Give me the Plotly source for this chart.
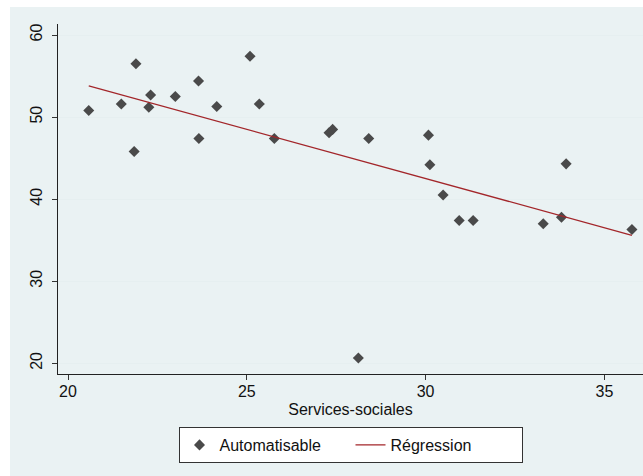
import plotly.graph_objects as go

# Data
services_sociales = [20.58, 21.49, 21.90, 21.85, 22.31, 22.26, 23.00, 23.65, 23.66, 24.16,
                     25.09, 25.35, 25.77, 27.30, 27.40, 28.41, 28.12, 30.08, 30.12, 30.49,
                     30.94, 31.33, 33.29, 33.80, 33.93, 35.77]
automatisable = [50.8, 51.6, 56.5, 45.8, 52.7, 51.2, 52.5, 54.4, 47.4, 51.3,
                 57.4, 51.6, 47.4, 48.1, 48.5, 47.4, 20.65, 47.8, 44.2, 40.5,
                 37.4, 37.4, 37.0, 37.8, 44.3, 36.3]
regression_x = [20.58, 35.77]
regression_y = [53.8, 35.6]

x_ticks = [20, 25, 30, 35]
y_ticks = [20, 30, 40, 50, 60]

W, H = 643, 476
ML, MR, MT, MB = 58, 0, 24, 102
pw, ph = W - ML - MR, H - MT - MB

def px_x(p):
    return (p - ML) / pw

def px_y(p):
    return (H - MB - p) / ph

font = "Liberation Sans, Arial, sans-serif"
fig = go.Figure()
fig.add_trace(go.Scatter(
    x=services_sociales, y=automatisable, mode="markers", name="Automatisable",
    marker=dict(symbol="diamond", size=8.5, color="#4a4a4a", line=dict(width=0)),
))
fig.add_trace(go.Scatter(
    x=regression_x, y=regression_y, mode="lines", name="Régression",
    line=dict(color="#a3262a", width=1.3),
))

fig.add_shape(type="rect", xref="paper", yref="paper", layer="below",
              x0=px_x(10), x1=px_x(W + 5), y0=px_y(H + 5), y1=px_y(7),
              fillcolor="#eaf2f3", line=dict(width=0))

fig.update_layout(
    width=W, height=H,
    margin=dict(l=ML, r=MR, t=MT, b=MB, pad=0),
    paper_bgcolor="white", plot_bgcolor="white",
    font=dict(family=font, size=16, color="#111"),
    showlegend=True,
    legend=dict(orientation="h", x=0.5, xanchor="center", y=px_y(427), yanchor="top",
                bgcolor="white", bordercolor="#333", borderwidth=1,
                font=dict(size=16), entrywidth=126),
    xaxis=dict(range=[19.72, 36.08], tickvals=x_ticks, ticks="outside", ticklen=5,
               tickcolor="#333", showline=True, linecolor="#222", linewidth=1,
               showgrid=False, zeroline=False,
               title=dict(text="Services-sociales", standoff=4, font=dict(size=16)),
               tickfont=dict(size=16), ticklabelstandoff=-2),
    yaxis=dict(range=[18.7, 61.34], tickvals=y_ticks, ticks="outside", ticklen=5,
               tickcolor="#333", showline=True, linecolor="#222", linewidth=1,
               showgrid=True, gridcolor="#e6eff0", gridwidth=1, zeroline=False,
               tickangle=-90, tickfont=dict(size=16), ticklabelstandoff=4),
)

fig.write_html("out.html")
